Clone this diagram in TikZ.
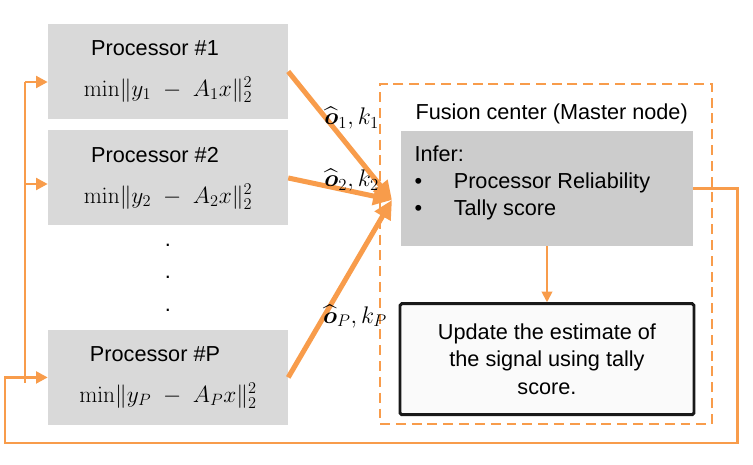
\RequirePackage{fix-cm}
\documentclass[tikz,border=0pt]{standalone}
\usepackage{amsmath}
\usepackage[no-math]{fontspec}
\setmainfont{Liberation Sans}
\usepackage{tikz}
\usetikzlibrary{arrows.meta,positioning,calc}
\definecolor{fuseorange}{HTML}{F89C4B}
\definecolor{procgray}{HTML}{D9D9D9}
\definecolor{infergray}{HTML}{CCCCCC}
\newcommand{\costfn}[1]{{\fontsize{20}{35}\selectfont$\min\lVert y_{#1}\;-\;A_{#1}x\rVert_2^2$}}

\begin{document}
\begin{tikzpicture}[
  node distance=0.33cm and 0.5cm,
  proc/.style={fill=procgray, align=center, minimum width=7.2cm, minimum height=2.85cm,
               font=\fontsize{18.5}{35}\selectfont},
  txt/.style={font=\fontsize{18.5}{23}\selectfont},
  fusionbox/.style={draw=fuseorange, line width=2.5pt, dash pattern=on 8.5pt off 5pt,
                    minimum width=9.96cm, minimum height=10.2cm},
  inferbox/.style={fill=infergray, minimum width=8.76cm, minimum height=3.45cm},
  updbox/.style={draw=black!90, fill=black!2, line width=2.5pt, rounded corners=1.5pt,
                 minimum width=8.82cm, minimum height=3.33cm, align=center,
                 font=\fontsize{18.5}{23.5}\selectfont},
  lbl/.style={font=\fontsize{20.5}{22}\selectfont},
  flow/.style={draw=fuseorange, line width=4.3pt, -{Triangle[length=16pt, width=15pt]}},
  feed/.style={draw=fuseorange, line width=2.5pt},
  feedarr/.style={feed, -{Triangle[length=10pt, width=10pt]}},
  down/.style={draw=fuseorange, line width=1.6pt, -{Triangle[length=9pt, width=9pt]}}
]
\useasboundingbox (0,0) rectangle (22.59,-13.95);

% processors
\node[proc] (proc1) at (5.04,-2.145) {\hspace*{-0.78cm}Processor \#1\\\costfn{1}};
\node[proc, below=of proc1] (proc2) {\hspace*{-0.78cm}Processor \#2\\\costfn{2}};
\node[proc, below=3.12cm of proc2] (procP) {\hspace*{-0.78cm}Processor \#P\\\costfn{P}};
\node[align=center, font=\fontsize{18.5}{28}\selectfont] (vdots)
  at ($(proc2.south)!0.5!(procP.north)$) {.\\.\\.};

% fusion center
\node[fusionbox] (fusion) at (16.38,-7.62) {};
\node[txt] (title) at ($(fusion.north)+(0.17,-0.95)$) {Fusion center (Master node)};
\node[inferbox] (infer) at (16.41,-5.655) {};
\node[txt, anchor=north west, align=left] (infertxt) at ($(infer.north west)+(0.29,-0.32)$)
  {Infer:\\\textbullet\hspace{0.95cm}Processor Reliability\\\textbullet\hspace{0.95cm}Tally score};
\node[updbox, below=1.68cm of infer] (update)
  {Update the estimate of\\the signal using tally\\score.};

% messages to the fusion center
\coordinate (hub) at (11.76,-6.0);
\draw[flow] (proc1.east) -- (hub);
\draw[flow] (proc2.east) -- (hub);
\draw[flow] (procP.east) -- (hub);
\node[lbl] (msg1) at (10.55,-3.54) {$\widehat{\boldsymbol{o}}_1,k_1$};
\node[lbl] (msg2) at (10.55,-5.4) {$\widehat{\boldsymbol{o}}_2,k_2$};
\node[lbl] (msgP) at (10.65,-9.5) {$\widehat{\boldsymbol{o}}_P,k_P$};

\draw[down] (infer) -- (update);

% feedback to the processors
\coordinate (bustop) at (0.75,-2.46);
\coordinate (busmid) at (0.75,-5.52);
\coordinate (busbot) at (0.75,-11.49);
\coordinate (loopcorner) at (0.15,-13.29);
\draw[feed] (bustop) -- (busbot);
\draw[feedarr] (bustop) -- (bustop -| proc1.west);
\draw[feedarr] (busmid) -- (busmid -| proc2.west);
\draw[feedarr] (infer.east) -- ++(1.32,0) |- (loopcorner) |- (procP.west);
\end{tikzpicture}
\end{document}
